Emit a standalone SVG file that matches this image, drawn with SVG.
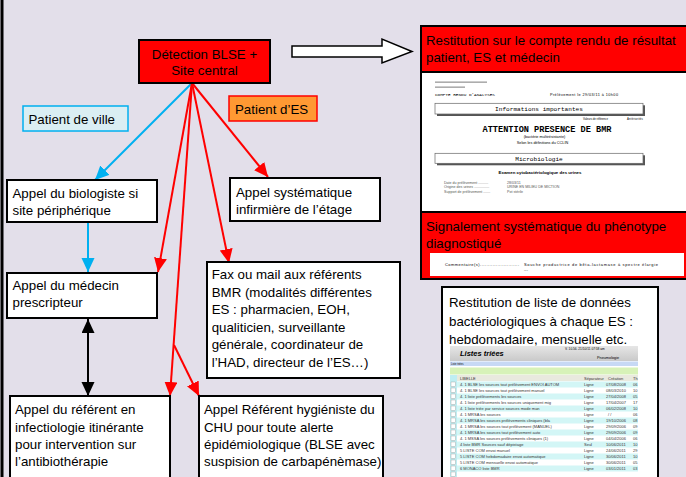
<svg xmlns="http://www.w3.org/2000/svg" width="686" height="477" viewBox="0 0 686 477">
<defs>
<style>
text{font-family:"Liberation Sans",Arial,sans-serif;fill:#000}
.t{font-size:13.3px}
.box{fill:#fff;stroke:#000;stroke-width:2}
.red{fill:#ff0000;stroke:#000;stroke-width:2}
.mono{font-family:"Liberation Mono","Courier New",monospace}
.g{fill:#444}
.sm{font-size:3.6px;fill:#555}
.rowt{font-size:4px;fill:#333}
.lr{stroke:#ff0000;stroke-width:2;fill:none}
.lb{stroke:#00b0f0;stroke-width:2;fill:none}
.lk{stroke:#000;stroke-width:2;fill:none}
</style>
<marker id="ar" markerUnits="userSpaceOnUse" markerWidth="15" markerHeight="14" refX="14" refY="6.5" orient="auto"><path d="M0,0 L14,6.5 L0,13 z" fill="#ff0000"/></marker>
<marker id="ab" markerUnits="userSpaceOnUse" markerWidth="15" markerHeight="14" refX="14" refY="6.5" orient="auto"><path d="M0,0 L14,6.5 L0,13 z" fill="#00b0f0"/></marker>
<marker id="ak" markerUnits="userSpaceOnUse" markerWidth="15" markerHeight="14" refX="14" refY="6.5" orient="auto-start-reverse"><path d="M0,0 L14,6.5 L0,13 z" fill="#000"/></marker>
</defs>
<rect x="0" y="0" width="686" height="477" fill="#e3dfea"/>
<line x1="2" y1="0" x2="2" y2="477" stroke="#000" stroke-width="3"/>

<g id="connectors">
<line class="lb" x1="192" y1="83" x2="95" y2="180" marker-end="url(#ab)"/>
<line class="lb" x1="88" y1="222" x2="88" y2="272" marker-end="url(#ab)"/>
<line class="lr" x1="192" y1="83" x2="158" y2="272" marker-end="url(#ar)"/>
<line class="lr" x1="192" y1="83" x2="170" y2="396" marker-end="url(#ar)"/>
<line class="lr" x1="174" y1="345" x2="199" y2="396" marker-end="url(#ar)"/>
<line class="lr" x1="192" y1="83" x2="229" y2="263" marker-end="url(#ar)"/>
<line class="lr" x1="192" y1="83" x2="268" y2="177" marker-end="url(#ar)"/>
<line class="lk" x1="88" y1="319" x2="88" y2="396" marker-start="url(#ak)" marker-end="url(#ak)"/>
<polygon points="292,46 382,46 382,39 412,51.5 382,63 382,57 292,57" fill="#fff" stroke="#000" stroke-width="1.5"/>
</g>

<g id="detection">
<rect class="red" x="139" y="40" width="131" height="43"/>
<text class="t" x="204.5" y="58.5" text-anchor="middle">Détection BLSE +</text>
<text class="t" x="204.5" y="75" text-anchor="middle">Site central</text>
</g>

<g id="patient-es">
<rect x="229" y="96" width="88" height="25" fill="#ff9933" stroke="#ff0000" stroke-width="1.5"/>
<text class="t" x="235" y="113.5">Patient d’ES</text>
</g>

<g id="patient-ville">
<rect x="23" y="106" width="105" height="25" fill="#daeef3" stroke="#00b0f0" stroke-width="1.5"/>
<text class="t" x="28.5" y="123.5">Patient de ville</text>
</g>

<g id="biologiste">
<rect class="box" x="7" y="180" width="150" height="42"/>
<text class="t" x="12.5" y="198.3">Appel du biologiste si</text>
<text class="t" x="12.5" y="214.8">site périphérique</text>
</g>

<g id="medecin">
<rect class="box" x="7" y="273" width="150" height="45"/>
<text class="t" x="12.5" y="289.5">Appel du médecin</text>
<text class="t" x="12.5" y="306.7">prescripteur</text>
</g>

<g id="infirmiere">
<rect class="box" x="230" y="178" width="150" height="43"/>
<text class="t" x="236" y="196.5">Appel systématique</text>
<text class="t" x="236" y="213.5">infirmière de l’étage</text>
</g>

<g id="fax">
<rect class="box" x="207" y="262" width="193" height="116"/>
<text class="t" x="211.7" y="279.3">Fax ou mail aux référents</text>
<text class="t" x="211.7" y="296.8">BMR (modalités différentes</text>
<text class="t" x="211.7" y="314.3">ES : pharmacien, EOH,</text>
<text class="t" x="211.7" y="331.8">qualiticien, surveillante</text>
<text class="t" x="211.7" y="349.3">générale, coordinateur de</text>
<text class="t" x="211.7" y="366.8">l’HAD, directeur de l’ES…)</text>
</g>

<g id="infectiologie">
<rect class="box" x="10" y="396" width="160" height="100"/>
<text class="t" x="15" y="414.3">Appel du référent en</text>
<text class="t" x="15" y="431.5">infectiologie itinérante</text>
<text class="t" x="15" y="448.7">pour intervention sur</text>
<text class="t" x="15" y="465.9">l’antibiothérapie</text>
</g>

<g id="hygieniste">
<rect class="box" x="199" y="396" width="184" height="100"/>
<text class="t" x="204" y="414.3">Appel Référent hygiéniste du</text>
<text class="t" x="204" y="431.5">CHU pour toute alerte</text>
<text class="t" x="204" y="448.7">épidémiologique (BLSE avec</text>
<text class="t" x="204" y="465.9">suspision de carbapénèmase)</text>
</g>

<g id="restitution-cr">
<rect x="421" y="26" width="266" height="253" fill="#fff" stroke="#000" stroke-width="2"/>
<rect class="red" x="421" y="26" width="266" height="46"/>
<text class="t" x="426" y="45">Restitution sur le compte rendu de résultat</text>
<text class="t" x="426" y="61.5">patient, ES et médecin</text>
<rect x="435" y="81.5" width="52" height="1.3" fill="#999"/>
<rect x="435" y="86.5" width="30" height="1.3" fill="#999"/>
<text class="mono" x="435" y="95.5" font-size="4.4" fill="#555" textLength="60">COMPTE RENDU D'ANALYSES</text>
<text x="550" y="96" font-size="3.8" fill="#666" textLength="68">Prélèvement le 29/03/11 à 10h00</text>
<rect x="437" y="105.3" width="208" height="10.7" fill="#555"/>
<rect x="435" y="103.3" width="208" height="10.7" fill="#fff" stroke="#666" stroke-width="0.7"/>
<text class="mono" x="539" y="111.3" font-size="6.1" fill="#333" text-anchor="middle">Informations importantes</text>
<text x="583" y="119.5" font-size="2.8" fill="#666" textLength="25">Valeurs de référence</text>
<text x="627" y="119.5" font-size="2.8" fill="#666" textLength="16">Antériorités</text>
<text class="mono" x="547" y="131.5" font-size="8.6" font-weight="bold" fill="#111" text-anchor="middle">ATTENTION PRESENCE DE BMR</text>
<text x="544.5" y="137.5" font-size="3.8" fill="#555" text-anchor="middle">(bactérie multirésistante)</text>
<text x="542.5" y="143.5" font-size="3.8" fill="#555" text-anchor="middle">Selon les définitions du CCLIN</text>
<rect x="437" y="155.3" width="208" height="10" fill="#555"/>
<rect x="435" y="153.3" width="208" height="10" fill="#fff" stroke="#666" stroke-width="0.7"/>
<text class="mono" x="539" y="160.8" font-size="6.1" fill="#333" text-anchor="middle">Microbiologie</text>
<text x="540" y="174" font-size="4.4" font-weight="bold" fill="#333" text-anchor="middle">Examen cytobactériologique des urines</text>
<text class="sm" x="444" y="183.5">Date du prélèvement ..........</text>
<text class="sm" x="507" y="183.5">28/03/11</text>
<text class="sm" x="444" y="188">Origine des urines ...............</text>
<text class="sm" x="507" y="188">URINE EN MILIEU DE MICTION</text>
<text class="sm" x="444" y="192.5">Support de prélèvement .......</text>
<text class="sm" x="507" y="192.5">Pot stérile</text>
<rect class="red" x="421" y="212" width="266" height="67"/>
<text class="t" x="426" y="231">Signalement systématique du phénotype</text>
<text class="t" x="426" y="247.5">diagnostiqué</text>
<rect x="430" y="253" width="254" height="23" fill="#fff"/>
<text x="445" y="266" font-size="4" fill="#666" textLength="74">Commentaire(s).........................</text>
<text x="524" y="266" font-size="4" fill="#666" textLength="134">Souche productrice de bêta-lactamase à spectre élargie</text>
<text x="524" y="271" font-size="4" fill="#666">---</text>
</g>

<g id="restitution-liste">
<rect class="box" x="442" y="287" width="216" height="200"/>
<text class="t" x="449" y="306.5">Restitution de liste de données</text>
<text class="t" x="449" y="325.5">bactériologiques à chaque ES :</text>
<text class="t" x="449" y="344">hebdomadaire, mensuelle etc.</text>
<defs><linearGradient id="hg" x1="0" y1="0" x2="0" y2="1"><stop offset="0" stop-color="#e6e6e6"/><stop offset="1" stop-color="#c9c9c9"/></linearGradient></defs>
<rect x="450" y="346" width="188" height="131" fill="#fff"/>
<rect x="450" y="346" width="188" height="15" fill="url(#hg)"/>
<text x="460" y="356" font-size="7.5" font-weight="bold" font-style="italic" fill="#2a4fd0">Listes triées</text>
<text x="565" y="350" font-size="3.2" fill="#444">V. 10.56. 21/10/11 07:58 am</text>
<text x="597" y="359" font-size="3.8" fill="#2a9a2a">Pneumologie</text>
<rect x="450" y="361.5" width="188" height="4.5" fill="#c7d9f5"/>
<text x="451" y="365" font-size="2.6" fill="#335">Liste triées</text>
<rect x="450" y="367.5" width="188" height="7" fill="#d7f2b8"/>
<rect x="450" y="375" width="188" height="6" fill="#e9e9de"/>
<rect x="450" y="375" width="7" height="102" fill="#bfeef2"/>
<text class="rowt" x="460" y="379.8">LIBELLE</text>
<text class="rowt" x="584" y="379.8">Séparateur</text>
<text class="rowt" x="608" y="379.8">Création</text>
<text class="rowt" x="633" y="379.8">Th</text>
<g fill="#d3f6f6">
<rect x="457" y="381.5" width="181" height="6"/><rect x="457" y="393.5" width="181" height="6"/><rect x="457" y="405.5" width="181" height="6"/><rect x="457" y="417.5" width="181" height="6"/><rect x="457" y="429.5" width="181" height="6"/><rect x="457" y="441.5" width="181" height="6"/><rect x="457" y="453.5" width="181" height="6"/><rect x="457" y="465.5" width="181" height="6"/>
</g>
<g fill="#fff" stroke="#999" stroke-width="0.4">
<rect x="451" y="382" width="4.5" height="4.5"/><rect x="451" y="388" width="4.5" height="4.5"/><rect x="451" y="394" width="4.5" height="4.5"/><rect x="451" y="400" width="4.5" height="4.5"/><rect x="451" y="406" width="4.5" height="4.5"/><rect x="451" y="412" width="4.5" height="4.5"/><rect x="451" y="418" width="4.5" height="4.5"/><rect x="451" y="424" width="4.5" height="4.5"/><rect x="451" y="430" width="4.5" height="4.5"/><rect x="451" y="436" width="4.5" height="4.5"/><rect x="451" y="442" width="4.5" height="4.5"/><rect x="451" y="448" width="4.5" height="4.5"/><rect x="451" y="454" width="4.5" height="4.5"/><rect x="451" y="460" width="4.5" height="4.5"/><rect x="451" y="466" width="4.5" height="4.5"/><rect x="451" y="472" width="4.5" height="4.5"/>
</g>
<g class="rowt">
<text class="rowt" x="460" y="386">4. 1 BLSE les sources tout prélèvement ENVOI AUTOM</text><text class="rowt" x="584" y="386">Ligne</text><text class="rowt" x="606" y="386">07/08/2008</text><text class="rowt" x="633" y="386">06</text>
<text class="rowt" x="460" y="392">4. 1 BLSE les sources tout prélèvement manuel</text><text class="rowt" x="584" y="392">Ligne</text><text class="rowt" x="606" y="392">08/03/2010</text><text class="rowt" x="633" y="392">10</text>
<text class="rowt" x="460" y="398">4. 1 liste prélèvements les sources</text><text class="rowt" x="584" y="398">Ligne</text><text class="rowt" x="606" y="398">27/04/2008</text><text class="rowt" x="633" y="398">05</text>
<text class="rowt" x="460" y="404">4. 1 liste prélèvements les sources uniquement mig</text><text class="rowt" x="584" y="404">Ligne</text><text class="rowt" x="606" y="404">17/04/2007</text><text class="rowt" x="633" y="404">17</text>
<text class="rowt" x="460" y="410">4. 1 liste triée par service sources mode man</text><text class="rowt" x="584" y="410">Ligne</text><text class="rowt" x="606" y="410">06/02/2008</text><text class="rowt" x="633" y="410">10</text>
<text class="rowt" x="460" y="416">4. 1 MRSA les sources</text><text class="rowt" x="584" y="416">Ligne</text><text class="rowt" x="608" y="416">/ /</text><text class="rowt" x="633" y="416">06</text>
<text class="rowt" x="460" y="422">4. 1 MRSA les sources prélèvements cliniques (bla</text><text class="rowt" x="584" y="422">Ligne</text><text class="rowt" x="606" y="422">19/10/2006</text><text class="rowt" x="633" y="422">08</text>
<text class="rowt" x="460" y="428">4. 1 MRSA les sources tout prélèvement (MANUEL)</text><text class="rowt" x="584" y="428">Ligne</text><text class="rowt" x="606" y="428">29/09/2006</text><text class="rowt" x="633" y="428">09</text>
<text class="rowt" x="460" y="434">4. 1 MRSA les sources tout prélèvement auto</text><text class="rowt" x="584" y="434">Ligne</text><text class="rowt" x="606" y="434">29/09/2006</text><text class="rowt" x="633" y="434">09</text>
<text class="rowt" x="460" y="440">4. 1 MSSA les sources prélèvements cliniques (1)</text><text class="rowt" x="584" y="440">Ligne</text><text class="rowt" x="606" y="440">04/04/2006</text><text class="rowt" x="633" y="440">06</text>
<text class="rowt" x="460" y="446">4 liste BMR Sources sauf dépistage</text><text class="rowt" x="584" y="446">Seul</text><text class="rowt" x="606" y="446">10/06/2011</text><text class="rowt" x="633" y="446">10</text>
<text class="rowt" x="460" y="452">5 LISTE COM envoi manuel</text><text class="rowt" x="584" y="452">Ligne</text><text class="rowt" x="606" y="452">24/06/2011</text><text class="rowt" x="633" y="452">29</text>
<text class="rowt" x="460" y="458">5 LISTE COM hebdomadaire envoi automatique</text><text class="rowt" x="584" y="458">Ligne</text><text class="rowt" x="606" y="458">30/06/2011</text><text class="rowt" x="633" y="458">10</text>
<text class="rowt" x="460" y="464">5 LISTE COM mensuelle envoi automatique</text><text class="rowt" x="584" y="464">Ligne</text><text class="rowt" x="606" y="464">30/06/2011</text><text class="rowt" x="633" y="464">05</text>
<text class="rowt" x="460" y="470">6 MONACO liste BMR</text><text class="rowt" x="584" y="470">Ligne</text><text class="rowt" x="606" y="470">03/01/2011</text><text class="rowt" x="633" y="470">03</text>
</g>
<rect x="442" y="287" width="216" height="200" fill="none" stroke="#000" stroke-width="2"/>
</g>
</svg>
